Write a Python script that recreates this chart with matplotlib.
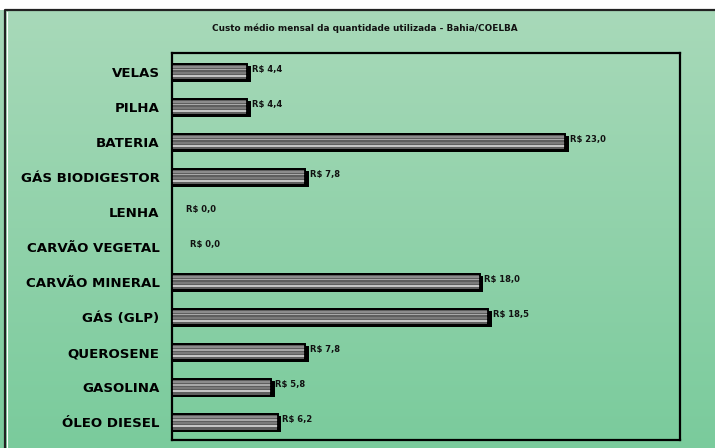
import numpy as np
import matplotlib
matplotlib.use("Agg")
import matplotlib.pyplot as plt

categories = ["VELAS", "PILHA", "BATERIA", "GÁS BIODIGESTOR", "LENHA",
              "CARVÃO VEGETAL", "CARVÃO MINERAL", "GÁS (GLP)", "QUEROSENE",
              "GASOLINA", "ÓLEO DIESEL"]
values = [4.4, 4.4, 23.0, 7.8, 0.0, 0.0, 18.0, 18.5, 7.8, 5.8, 6.2]
labels = ["R$ 4,4", "R$ 4,4", "R$ 23,0", "R$ 7,8", "R$ 0,0", "R$ 0,0",
          "R$ 18,0", "R$ 18,5", "R$ 7,8", "R$ 5,8", "R$ 6,2"]
title = "Custo médio mensal da quantidade utilizada - Bahia/COELBA"

plt.rcParams['font.family'] = ['DejaVu Sans']

fig = plt.figure(figsize=(7.15, 4.48), dpi=100)
fig.patch.set_facecolor('white')

# background gradient
bg = fig.add_axes([0, 0, 1, 1 - 10/448])
bg.set_axis_off()
top = np.array([0xa8, 0xd9, 0xb9]) / 255
bot = np.array([0x7a, 0xcb, 0x9c]) / 255
t = np.linspace(0, 1, 256)[:, None]
grad = top[None, :] * (1 - t) + bot[None, :] * t
bg.imshow(grad[:, None, :], aspect='auto', extent=[0, 1, 0, 1])
bg.set_xlim(0, 1); bg.set_ylim(0, 1)
bg.plot([5/715, 5/715, 1], [0, 1, 1], color='#222222', lw=1.6, transform=bg.transAxes, clip_on=False)
bg.plot([7/715, 7/715], [0, 1 - 2/438], color='white', lw=0.8, transform=bg.transAxes)

ax = fig.add_axes([172/715, 8/448, (680-172)/715, (448-53-8)/448])
ax.patch.set_alpha(0)
n = len(categories)
y = np.arange(n)
h = 0.46
xmax = 29.7
ax.set_xlim(0, xmax)
ax.set_ylim(n - 0.5, -0.55)

for yi, v in zip(y, values):
    if v <= 0:
        continue
    ax.barh(yi + 0.05, v + 0.2, height=h, left=0, color='black', zorder=2)
    ax.barh(yi, v, height=h, color='#5e5e5e', edgecolor='black', lw=1.3, zorder=3)
    stripes = [(-0.15, 0.05, '#8c8c8c'), (-0.08, 0.05, '#a8a8a8'),
               (0.02, 0.05, '#7a7a7a'), (0.11, 0.06, '#c4c4c4')]
    for off, hh, c in stripes:
        ax.barh(yi + off, v, height=hh, color=c, lw=0, zorder=4)
    ax.barh(yi, v, height=h, color='none', edgecolor='black', lw=1.3, zorder=5)

for yi, v, lab in zip(y, values, labels):
    if v > 0:
        xoff = 0.25
    else:
        xoff = 0.8 + 0.28 * (yi == 5)
    ax.text(v + xoff, yi - 0.08, lab, fontsize=6.0,
            fontweight='bold', va='center', ha='left', color='#111111', zorder=6)

ax.set_yticks(y)
ax.set_yticklabels(categories, fontsize=9.6, fontweight='bold')
ax.tick_params(axis='y', length=0, pad=9)
ax.set_xticks([])
for s in ax.spines.values():
    s.set_linewidth(1.6)
    s.set_color('black')

fig.text(365/715, 1 - 28/448, title, ha='center', va='center', fontsize=6.4,
         fontweight='bold', color='#111111')

fig.savefig('out.png', dpi=100)
